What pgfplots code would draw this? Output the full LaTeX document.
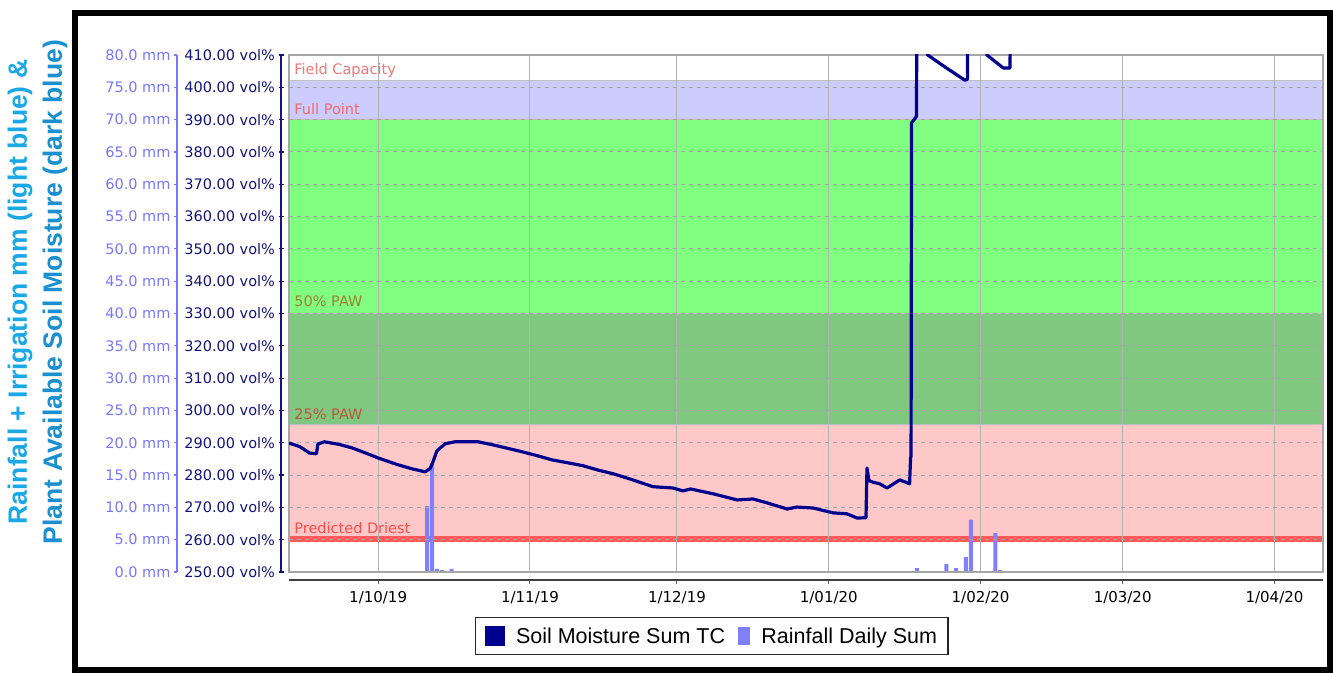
\documentclass[border=0pt]{standalone}
\usepackage{pgfplots}
\pgfplotsset{compat=1.18}
\usepackage{fontspec}
\setmainfont{DejaVu Sans}
\newfontfamily\arialfont{Liberation Sans}
\definecolor{navyline}{HTML}{00008F}
\definecolor{rain}{HTML}{8080FF}
\definecolor{purpleband}{HTML}{CCCCFF}
\definecolor{greenband}{HTML}{80FF80}
\definecolor{dgreenband}{HTML}{80C880}
\definecolor{pinkband}{HTML}{FFC8C8}
\definecolor{redline}{HTML}{FF5A5A}
\definecolor{titleA}{HTML}{1AA8E6}
\definecolor{titleB}{HTML}{1A90D0}
\definecolor{mmcol}{HTML}{7878FF}
\definecolor{volcol}{HTML}{14147A}
\definecolor{labpink}{HTML}{F07878}
\definecolor{lab50}{HTML}{A08030}
\definecolor{lab25}{HTML}{B85A3A}
\pgfplotsset{
  plotarea/.style={at={(289pt,101pt)}, anchor=south west, scale only axis,
    width=1034pt, height=517pt, xmin=-18.2, xmax=192.9},
  /pgf/number format/assume math mode=true
}
\newcommand\tickfont{\fontsize{14.5}{16}\selectfont}
\begin{document}
\begin{tikzpicture}
\useasboundingbox (0,0) rectangle (1333pt,673pt);
\fill[white] (0,0) rectangle (1333pt,673pt);
% bands
\begin{axis}[plotarea, ymin=250, ymax=410, hide axis]
\addplot[fill=purpleband, draw=none] coordinates {(-18.2,390) (192.9,390) (192.9,402.2) (-18.2,402.2)} -- cycle;
\addplot[fill=greenband, draw=none] coordinates {(-18.2,330) (192.9,330) (192.9,390) (-18.2,390)} -- cycle;
\addplot[fill=dgreenband, draw=none] coordinates {(-18.2,295.5) (192.9,295.5) (192.9,330) (-18.2,330)} -- cycle;
\addplot[fill=pinkband, draw=none] coordinates {(-18.2,261.0) (192.9,261.0) (192.9,295.5) (-18.2,295.5)} -- cycle;
\addplot[fill=redline, draw=none] coordinates {(-18.2,259.4) (192.9,259.4) (192.9,261.0) (-18.2,261.0)} -- cycle;
\addplot[draw=black!25, line width=1pt] coordinates {(-18.2,402.2) (192.9,402.2)};
\addplot[draw=black!25, line width=1pt] coordinates {(-18.2,390) (192.9,390)};
\addplot[draw=black!25, line width=1pt] coordinates {(-18.2,330) (192.9,330)};
\addplot[draw=black!25, line width=1pt] coordinates {(-18.2,295.5) (192.9,295.5)};
\end{axis}
% rainfall bars
\begin{axis}[plotarea, ymin=0, ymax=80, hide axis]
\addplot[ybar, bar width=4pt, bar shift=0pt, fill=rain, draw=none] coordinates {
(10,10.2) (11,16.8) (12,0.5) (13,0.3) (15,0.5)
(110,0.6) (116,1.2) (118,0.6) (120,2.3) (121,8.1) (126,6.0) (127,0.3)};
\end{axis}
% grid, frame, soil moisture line, legend
\begin{axis}[plotarea, ymin=250, ymax=410,
  xtick={0,31,61,92,123,152,183}, ytick={250,260,...,410},
  xticklabels={}, yticklabels={}, major tick length=0pt,
  xmajorgrids, ymajorgrids,
  x grid style={black!30, line width=1pt},
  y grid style={black!35, dash pattern=on 4pt off 4pt, line width=1pt},
  axis line style={black!35, line width=1.5pt},
  legend style={at={(0.409,-0.1238)}, anchor=center, draw=black!85, line width=1.3pt,
    font=\arialfont\fontsize{21.5}{24}\selectfont, legend columns=-1,
    inner xsep=9pt, inner ysep=8pt,
    /tikz/every odd column/.append style={column sep=9pt},
    /tikz/every even column/.append style={column sep=11pt}},
  legend cell align=left]
\addlegendimage{legend image code/.code={\fill[navyline] (0pt,-9pt) rectangle (19pt,9pt);}}
\addlegendentry{Soil Moisture Sum TC}
\addlegendimage{legend image code/.code={\fill[rain] (0pt,-8pt) rectangle (11pt,8pt);}}
\addlegendentry{Rainfall Daily Sum}
\addplot[navyline, line width=3.2pt, line join=round, forget plot] coordinates {
(-18.2,289.9) (-16,288.8) (-14,286.8) (-12.6,286.6) (-12.3,289.6) (-11,290.3)
(-8,289.5) (-5.3,288.4) (-2,286.5) (0,285.3) (4,283.2) (7,281.9) (9.6,281)
(10.2,281.6) (10.6,282) (11.2,284.1) (12,287.5) (13.7,289.7) (15.7,290.3)
(20.4,290.3) (23.3,289.4) (28.6,287.5) (32,286.2) (35.5,284.7) (38,284)
(41.8,282.9) (45,281.5) (48,280.4) (51.4,278.8) (56.1,276.4) (60.2,276)
(62.2,275.1) (63.8,275.7) (65,275.3) (68.4,274.2) (73.3,272.3) (76.5,272.6)
(79.4,271.4) (83.5,269.5) (85.5,270.1) (88.8,269.8) (92.9,268.3) (95.7,268)
(97.8,266.7) (99.6,266.8) (99.8,282.2) (100.2,278.3) (101,277.8) (102.4,277.3)
(103.9,276) (106.5,278.5) (108.5,277.3) (108.7,285.3) (108.8,285.8) (108.9,389)
(109.9,391) (110.0,425) (111.5,425) (112.2,410) (116,406) (119.8,402.2)
(120.3,402.5) (120.4,425) (123.5,425) (124.3,410) (127.6,406) (129,406) (129.1,425)};
\node[anchor=west, inner sep=0pt, text=labpink, font=\tickfont] at (axis cs:-17.14,405.3) {Field Capacity};
\node[anchor=west, inner sep=0pt, text=labpink!90!red, font=\tickfont] at (axis cs:-17.14,393.3) {Full Point};
\node[anchor=west, inner sep=0pt, text=lab50, font=\tickfont] at (axis cs:-17.14,333.7) {50\% PAW};
\node[anchor=west, inner sep=0pt, text=lab25, font=\tickfont] at (axis cs:-17.14,298.7) {25\% PAW};
\node[anchor=west, inner sep=0pt, text=red!70, font=\tickfont] at (axis cs:-17.14,263.6) {Predicted Driest};
\end{axis}
% x axis
\begin{axis}[at={(289pt,93pt)}, anchor=south west, scale only axis, width=1034pt, height=1pt,
  xmin=-18.2, xmax=192.9, ymin=0, ymax=1,
  axis x line*=bottom, axis y line=none,
  x axis line style={-, black!75, line width=2.5pt},
  xtick={0,31,61,92,123,152,183},
  xticklabels={1/10/19,1/11/19,1/12/19,1/01/20,1/02/20,1/03/20,1/04/20},
  xticklabel style={font=\fontsize{15}{17}\selectfont, text=black, yshift=-4pt},
  tick align=outside, major tick length=4pt, tick style={black!60, line width=1pt}]
\end{axis}
% vol% axis
\begin{axis}[at={(281pt,101pt)}, anchor=south west, scale only axis, width=1pt, height=517pt,
  xmin=0, xmax=1, ymin=250, ymax=410,
  axis x line=none, axis y line*=left,
  y axis line style={-, volcol, line width=1.5pt},
  ytick={250,260,...,410},
  yticklabels={250.00 vol\%,260.00 vol\%,270.00 vol\%,280.00 vol\%,290.00 vol\%,300.00 vol\%,310.00 vol\%,320.00 vol\%,330.00 vol\%,340.00 vol\%,350.00 vol\%,360.00 vol\%,370.00 vol\%,380.00 vol\%,390.00 vol\%,400.00 vol\%,410.00 vol\%},
  yticklabel style={text=volcol, font=\tickfont},
  tick align=center, major tick length=5pt, tick style={volcol, line width=1.2pt}]
\end{axis}
% mm axis
\begin{axis}[at={(177pt,101pt)}, anchor=south west, scale only axis, width=1pt, height=517pt,
  xmin=0, xmax=1, ymin=0, ymax=80,
  axis x line=none, axis y line*=left,
  y axis line style={-, mmcol, line width=1.5pt},
  ytick={0,5,...,80},
  yticklabels={0.0 mm,5.0 mm,10.0 mm,15.0 mm,20.0 mm,25.0 mm,30.0 mm,35.0 mm,40.0 mm,45.0 mm,50.0 mm,55.0 mm,60.0 mm,65.0 mm,70.0 mm,75.0 mm,80.0 mm},
  yticklabel style={text=mmcol, font=\tickfont},
  tick align=outside, major tick length=3pt, tick style={mmcol, line width=1.2pt}]
\end{axis}
% titles
\node[rotate=90, text=titleA, font=\arialfont\bfseries\fontsize{26.5}{30}\selectfont] at (20pt,381pt) {Rainfall + Irrigation mm (light blue) \&};
\node[rotate=90, text=titleB, font=\arialfont\bfseries\fontsize{26.5}{30}\selectfont] at (55pt,381pt) {Plant Available Soil Moisture (dark blue)};
% outer frame
\draw[line width=6pt] (75pt,3pt) rectangle (1330pt,660pt);
\end{tikzpicture}
\end{document}
